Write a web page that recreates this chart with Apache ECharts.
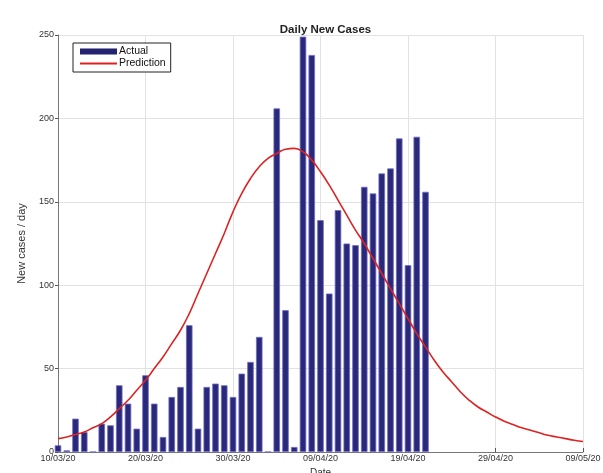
<!DOCTYPE html>
<html>
<head>
<meta charset="utf-8">
<script src="https://cdn.jsdelivr.net/npm/echarts@6/dist/echarts.min.js"></script>
<style>
html,body{margin:0;padding:0;background:#fff;}
#c{width:603px;height:473px;}
</style>
</head>
<body>
<div id="c"></div>
<script>
// Tick labels along the date axis (every 10 days from 10/03/20)
const tickLabels = ['10/03/20','20/03/20','30/03/20','09/04/20','19/04/20','29/04/20','09/05/20'];
// Actual daily new cases, day 0 = 10/03/20
const actualCases = [4,1,20,12,0,17,16,40,29,14,46,29,9,33,39,76,14,39,41,40,33,47,54,69,0,206,85,3,249,238,139,95,145,125,124,159,155,167,170,188,112,189,156];
// Predicted daily new cases, day 0 .. day 60
const predictedCases = [8,9,10.5,12,14.5,17,21,26,31,37,43,50,57,65,73,83,95,107,119,131,144,155,164,171,176,179,181.5,182,180,175,168,160,151,142,133,125,116,107,98,89,80,71,63,55,48,42,36,31,27,24,21,18.5,16.5,14.5,13,11.5,10,9,8,7,6.3];

const barData = actualCases.map((v,i)=>[i,v]);
const lineData = predictedCases.map((v,i)=>[i,v]);

const chart = echarts.init(document.getElementById('c'), null, {renderer:'canvas'});
const font = 'Liberation Sans, Arial, sans-serif';
chart.setOption({
  animation:false,
  backgroundColor:'#fff',
  title:{text:'Daily New Cases',left:320.5,textAlign:'center',top:19,
    textStyle:{fontFamily:font,fontSize:11.5,fontWeight:'bold',color:'#222'}},
  legend:{
    orient:'vertical',left:73,top:43,
    itemWidth:37,itemHeight:6,itemGap:1,
    padding:[3,5,3,6],
    borderColor:'#222',borderWidth:1,backgroundColor:'#fff',
    textStyle:{fontFamily:font,fontSize:10.5,color:'#111',padding:[0,0,0,-3]},
    data:[{name:'Actual',icon:'rect',itemStyle:{borderWidth:0,color:'#23226e'}},{name:'Prediction',itemStyle:{opacity:0}}]
  },
  grid:{left:58,right:20,top:35,bottom:21,outerBoundsMode:'none',containLabel:false},
  xAxis:{
    type:'value',min:0,max:60,interval:10,
    name:'Date',nameLocation:'middle',nameGap:16,
    nameTextStyle:{fontFamily:font,fontSize:10,color:'#333'},
    axisLine:{show:true,lineStyle:{color:'#777',width:1}},
    axisTick:{show:true,inside:true,length:4,lineStyle:{color:'#555'}},
    axisLabel:{fontFamily:font,fontSize:9,color:'#333',margin:2,
      formatter:(v)=>tickLabels[Math.round(v/10)]||''},
    splitLine:{show:true,lineStyle:{color:'#e2e2e2',width:1}}
  },
  yAxis:{
    type:'value',min:0,max:250,interval:50,
    name:'New cases / day',nameLocation:'middle',nameGap:31,
    nameTextStyle:{fontFamily:font,fontSize:11,color:'#333'},
    axisLine:{show:true,lineStyle:{color:'#777',width:1}},
    axisTick:{show:true,inside:false,length:3,lineStyle:{color:'#555'}},
    axisLabel:{fontFamily:font,fontSize:9,color:'#333',margin:4},
    splitLine:{show:true,lineStyle:{color:'#e2e2e2',width:1}}
  },
  series:[
    {name:'Actual',type:'bar',data:barData,barWidth:6.5,
      itemStyle:{color:'#2a2878',borderColor:'#6d6bc8',borderWidth:0.8},
      clip:true},
    {name:'Prediction',type:'line',data:lineData,smooth:true,symbol:'none',
      lineStyle:{color:'#dd2222',width:1.6},itemStyle:{color:'#dd2222'},z:5}
  ]
});
</script>
</body>
</html>
